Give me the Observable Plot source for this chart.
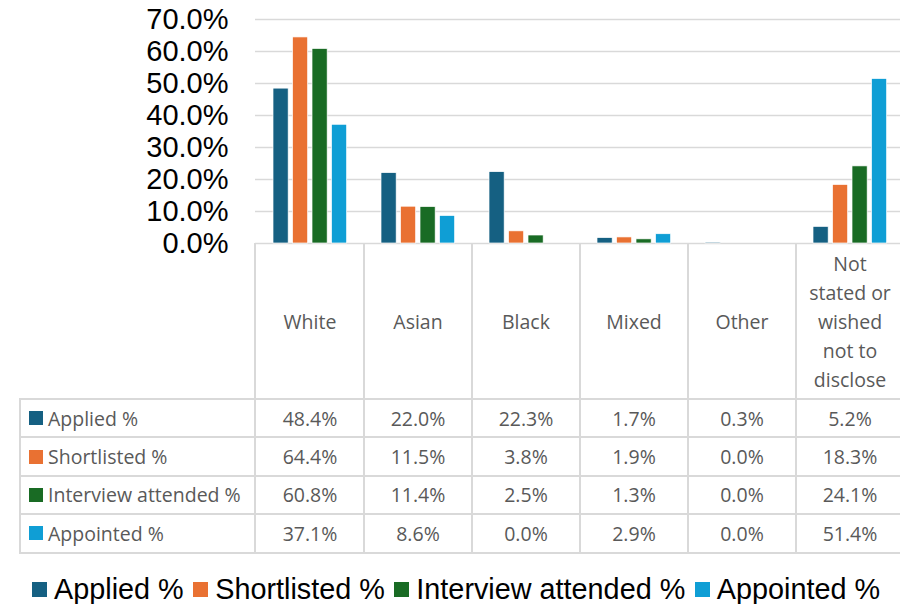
<!DOCTYPE html>
<html>
<head>
<meta charset="utf-8">
<script src="https://cdn.jsdelivr.net/npm/d3@7"></script>
<script src="https://cdn.jsdelivr.net/npm/@observablehq/plot@0.6"></script>
<style>
  html, body { margin: 0; padding: 0; background: #fff; overflow: hidden; }
  #wrap { position: relative; width: 900px; height: 604px; overflow: hidden; background: #fff; }
  #wrap svg { position: absolute; left: 0; top: 0; max-width: none !important; }
  .line { position: absolute; background: #d9d9d9; }
  .cell { position: absolute; display: flex; align-items: center; justify-content: center; text-align: center;
          font-family: "Open Sans", "Noto Sans", sans-serif; font-size: 19.5px; color: #595959; white-space: pre-line; line-height: 29px; }
  .rowlab { justify-content: flex-start; }
  .sw { display: inline-block; width: 14px; height: 14px; margin-right: 5px; margin-left: 9px; flex: none; }
  #legend { position: absolute; left: 32px; top: 572px; display: flex; align-items: center; white-space: nowrap;
            font-family: "Liberation Sans", Arial, sans-serif; font-size: 28.8px; color: #000; line-height: 34px; }
  #legend .lsw { display: inline-block; width: 15px; height: 15px; margin-right: 7px; }
  #legend .item { display: flex; align-items: center; margin-right: 9.5px; }
</style>
</head>
<body>
<div id="wrap"></div>
<script>
// ---- data ----
const categories = ["White", "Asian", "Black", "Mixed", "Other", "Not stated or wished not to disclose"];
const categoryLabels = ["White", "Asian", "Black", "Mixed", "Other", "Not\nstated or\nwished\nnot to\ndisclose"];
const seriesNames = ["Applied %", "Shortlisted %", "Interview attended %", "Appointed %"];
const applied = [48.4, 22.0, 22.3, 1.7, 0.3, 5.2];
const shortlisted = [64.4, 11.5, 3.8, 1.9, 0.0, 18.3];
const interviewAttended = [60.8, 11.4, 2.5, 1.3, 0.0, 24.1];
const appointed = [37.1, 8.6, 0.0, 2.9, 0.0, 51.4];
const seriesColors = ["#156082", "#E97132", "#196B24", "#0F9ED5"];
const yTicks = [0, 10, 20, 30, 40, 50, 60, 70];

const seriesValues = [applied, shortlisted, interviewAttended, appointed];

// ---- chart ----
const plotLeft = 255, plotRight = 905, plotTop = 19, plotBottom = 243;
const W = 910, H = 604;
const bw = (plotRight - plotLeft) / categories.length;
const barOffset = 17, barStep = 19.5, barWidth = 15.5;

const barMarks = seriesValues.map((vals, i) =>
  Plot.barY(categories.map((c, j) => ({category: c, value: vals[j]})), {
    x: "category", y: "value",
    fill: seriesColors[i], stroke: "#ffffff", strokeWidth: 0.7,
    insetLeft: barOffset + barStep * i,
    insetRight: bw - (barOffset + barStep * i + barWidth)
  })
);

const plot = Plot.plot({
  width: W, height: H,
  marginLeft: plotLeft, marginRight: W - plotRight, marginTop: plotTop, marginBottom: H - plotBottom,
  style: {background: "transparent", fontFamily: "'Liberation Sans', Arial, sans-serif", color: "#000", maxWidth: "none"},
  x: {domain: categories, padding: 0, axis: null},
  y: {domain: [0, 70], axis: null},
  marks: [
    Plot.gridY(yTicks, {stroke: "#d9d9d9", strokeOpacity: 1, strokeWidth: 1.5}),
    ...barMarks,
    Plot.axisY(yTicks, {tickSize: 0, tickPadding: 27, fontSize: 29, fill: "#000",
      tickFormat: d => d.toFixed(1) + "%", label: null})
  ]
});

const wrap = document.getElementById("wrap");
wrap.appendChild(plot);

// ---- data table (columns placed with the plot's x scale) ----
const xs = plot.scale("x");
const bandW = xs.bandwidth;
const tableLeft = 20;
const headerTop = plotBottom, headerBottom = 399, rowH = 38.4;
const rowTops = seriesNames.map((_, i) => headerBottom + rowH * i);
const tableBottom = headerBottom + rowH * seriesNames.length;

function addLine(x, y, w, h) {
  const d = document.createElement("div");
  d.className = "line";
  d.style.left = x + "px"; d.style.top = y + "px"; d.style.width = w + "px"; d.style.height = h + "px";
  wrap.appendChild(d);
}
function addCell(x, y, w, h, text, cls) {
  const d = document.createElement("div");
  d.className = "cell" + (cls ? " " + cls : "");
  d.style.left = x + "px"; d.style.top = y + "px"; d.style.width = w + "px"; d.style.height = h + "px";
  if (text !== null) d.textContent = text;
  wrap.appendChild(d);
  return d;
}

// category header cells
categories.forEach((c, j) => {
  const x0 = xs.apply(c);
  addCell(x0, headerTop, bandW, headerBottom - headerTop, categoryLabels[j]);
});
// data rows
seriesNames.forEach((s, i) => {
  const y0 = rowTops[i];
  const lab = addCell(tableLeft, y0, plotLeft - tableLeft, rowH, null, "rowlab");
  const sw = document.createElement("span");
  sw.className = "sw"; sw.style.background = seriesColors[i];
  lab.appendChild(sw);
  lab.appendChild(document.createTextNode(s));
  categories.forEach((c, j) => {
    addCell(xs.apply(c), y0, bandW, rowH, seriesValues[i][j].toFixed(1) + "%");
  });
});
// table lines
const lw = 2;
const colEdges = [plotLeft, ...categories.map(c => xs.apply(c) + bandW)];
colEdges.forEach(x => addLine(x - lw / 2, headerTop, lw, tableBottom - headerTop + lw / 2));
addLine(tableLeft - lw / 2, headerBottom, lw, tableBottom - headerBottom + lw / 2);
[headerBottom, ...rowTops.slice(1), tableBottom].forEach(y => addLine(tableLeft - lw / 2, y - lw / 2, plotRight - tableLeft + lw, lw));

// ---- legend ----
const legend = document.createElement("div");
legend.id = "legend";
seriesNames.forEach((s, i) => {
  const it = document.createElement("span");
  it.className = "item";
  const sq = document.createElement("span");
  sq.className = "lsw"; sq.style.background = seriesColors[i];
  it.appendChild(sq);
  it.appendChild(document.createTextNode(s));
  legend.appendChild(it);
});
wrap.appendChild(legend);
</script>
</body>
</html>
